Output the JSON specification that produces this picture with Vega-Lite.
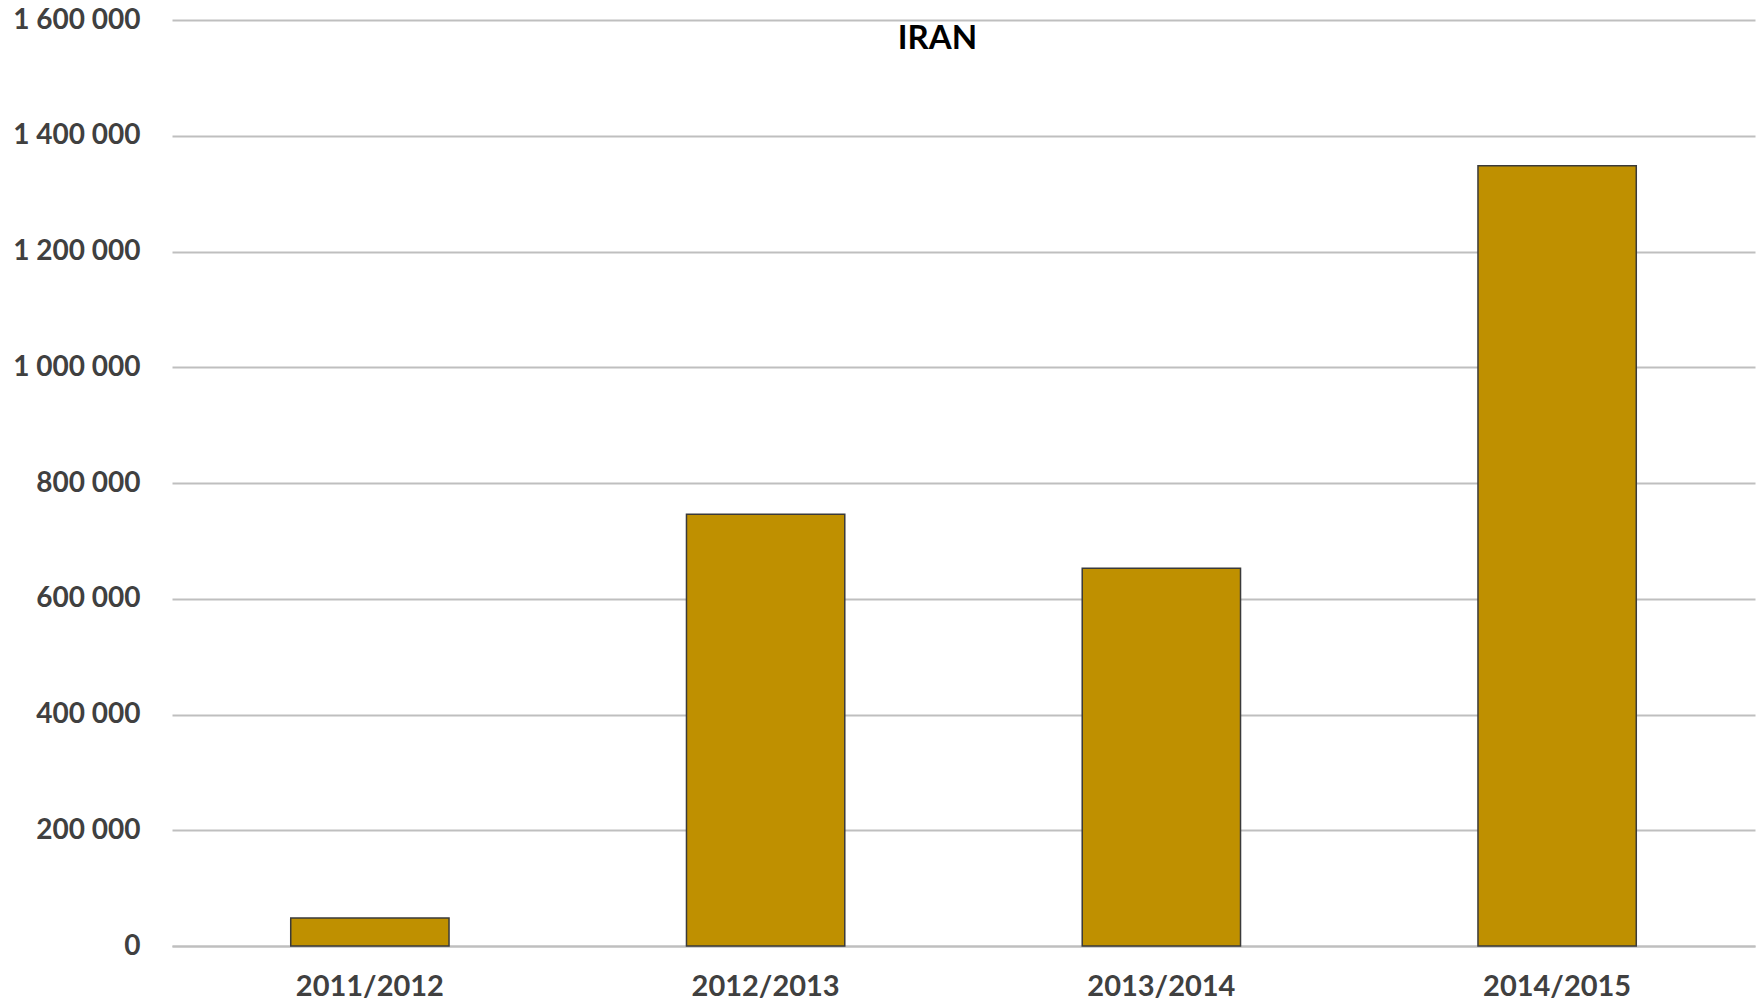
{
  "$schema": "https://vega.github.io/schema/vega-lite/v6.json",
  "width": 1583,
  "height": 926,
  "autosize": {"type": "none"},
  "padding": {"left": 172, "top": 20, "right": 6, "bottom": 60},
  "background": "white",
  "config": {
    "locale": {"number": {"decimal": ",", "thousands": " ", "grouping": [3], "currency": ["", ""]}},
    "view": {"stroke": null},
    "font": "Lato"
  },
  "data": {
    "values": [
      {"year": "2011/2012", "value": 48400},
      {"year": "2012/2013", "value": 746000},
      {"year": "2013/2014", "value": 652700},
      {"year": "2014/2015", "value": 1348200}
    ]
  },
  "mark": {"type": "bar", "color": "#BF9000", "stroke": "#3a3a3a", "strokeWidth": 1.5},
  "encoding": {
    "x": {
      "field": "year",
      "type": "nominal",
      "sort": null,
      "scale": {"paddingInner": 0.6, "paddingOuter": 0.3},
      "axis": {
        "title": null,
        "labelAngle": 0,
        "labelFontSize": 29,
        "labelFontWeight": "bold",
        "labelColor": "#404040",
        "labelPadding": 26,
        "ticks": false,
        "domainColor": "#bfbfbf",
        "domainWidth": 2,
        "grid": false
      }
    },
    "y": {
      "field": "value",
      "type": "quantitative",
      "scale": {"domain": [0, 1600000], "nice": false},
      "axis": {
        "title": "IRAN",
        "titleAngle": 0,
        "titleX": 765,
        "titleY": 28,
        "titleAlign": "center",
        "titleBaseline": "alphabetic",
        "titleFont": "Lato",
        "titleFontSize": 33,
        "titleFontWeight": "bold",
        "titleColor": "#000000",
        "values": [0, 200000, 400000, 600000, 800000, 1000000, 1200000, 1400000, 1600000],
        "format": ",d",
        "labelFontSize": 28,
        "labelFontWeight": "bold",
        "labelColor": "#404040",
        "labelPadding": 32,
        "ticks": false,
        "domain": false,
        "grid": true,
        "gridColor": "#bfbfbf",
        "gridWidth": 2
      }
    }
  }
}
